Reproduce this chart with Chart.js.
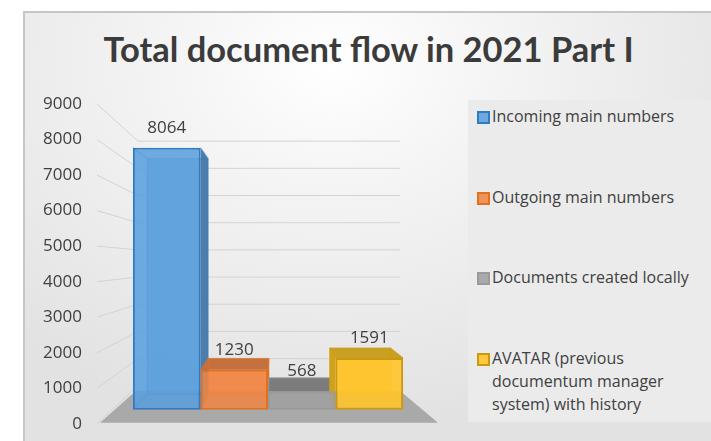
<!DOCTYPE html>
<html>
<head>
<meta charset="utf-8">
<script src="https://cdn.jsdelivr.net/npm/chart.js@4.4.0/dist/chart.umd.min.js"></script>
<style>
  html, body { margin: 0; padding: 0; background: #fff; overflow: hidden; }
  #wrap { position: relative; width: 711px; height: 441px; overflow: hidden; }
  #panel {
    position: absolute; left: 23px; top: 11px; width: 688px; height: 430px;
    box-sizing: border-box; border-top: 2px solid #c6c6c6; border-left: 2px solid #c6c6c6;
    background: radial-gradient(ellipse 70% 85% at 45% 12%, #ffffff 0%, #f4f4f4 35%, #e2e2e2 100%);
  }
  #title {
    position: absolute; left: 0; top: 29px; width: 737px; text-align: center;
    font: bold 34.5px Lato, "Open Sans", sans-serif; line-height: 40px; color: #3b3b3b;
  }
  #legend { position: absolute; left: 468px; top: 100px; width: 243px; height: 322px; background: #ebebeb; }
  .item { position: absolute; left: 24px; font: 16px "Open Sans", sans-serif; line-height: 23px; color: #404040; white-space: nowrap; }
  .sw { position: absolute; left: -15px; top: 6px; width: 9px; height: 9px; border: 2px solid; }
  canvas { position: absolute; left: 0; top: 0; }
</style>
</head>
<body>
<div id="wrap">
  <div id="panel"></div>
  <div id="title">Total document flow in 2021 Part I</div>
  <div id="legend"></div>
  <canvas id="canvas" width="711" height="449"></canvas>
</div>
<script>
// data
const categories = ['2021'];
const seriesNames = [
  'Incoming main numbers',
  'Outgoing main numbers',
  'Documents created locally',
  'AVATAR (previous documentum manager system) with history'
];
const seriesValues = [8064, 1230, 568, 1591];
const legendLines = [
  ['Incoming main numbers'],
  ['Outgoing main numbers'],
  ['Documents created locally'],
  ['AVATAR (previous', 'documentum manager', 'system) with history']
];
const yMin = 0, yMax = 9000, yStep = 1000;

// styles
const frontFill = ['rgba(88,157,220,0.86)', 'rgba(241,133,66,0.86)', 'rgba(160,160,160,0.86)', 'rgba(255,196,40,0.9)'];
const backFill = ['rgba(88,157,220,0.5)', 'rgba(241,133,66,0.5)', 'rgba(150,150,150,0.5)', 'rgba(255,196,40,0.5)'];
const topFill = ['#5f93c4', '#c5703f', '#7c7c7c', '#c9a024'];
const sideFill = ['#4d7eab', '#c46a33', '#8a8a8a', '#d0a21c'];
const edgeColor = ['#2f7bc4', '#e2711f', '#9a9a9a', '#c99a10'];
const legendTops = [5, 86, 166, 247];

// legend (html)
const legendEl = document.getElementById('legend');
legendLines.forEach(function(lines, i) {
  const d = document.createElement('div');
  d.className = 'item';
  d.style.top = legendTops[i] + 'px';
  d.innerHTML = '<span class="sw" style="background:' + frontFill[i] + ';border-color:' + edgeColor[i] + '"></span>' + lines.join('<br>');
  legendEl.appendChild(d);
});

const box3d = {
  id: 'box3d',
  beforeDatasetsDraw(chart) {
    const ctx = chart.ctx, a = chart.chartArea, y = chart.scales.y;
    const wallL = a.left + 41, wallR = a.right - 39;
    const wallY = function(v) {
      const p = y.getPixelForValue(v);
      return (a.bottom - 38) + (p - a.bottom) * 0.765;
    };
    ctx.save();
    // side + back wall gridlines
    ctx.strokeStyle = '#d3d3d3';
    ctx.lineWidth = 1;
    y.ticks.forEach(function(t) {
      const p = y.getPixelForValue(t.value), w = wallY(t.value);
      ctx.beginPath();
      ctx.moveTo(a.left, p);
      ctx.lineTo(wallL, w);
      ctx.lineTo(wallR, w);
      ctx.stroke();
    });
    // floor
    ctx.fillStyle = '#a9a9a9';
    ctx.beginPath();
    ctx.moveTo(a.left + 3, a.bottom - 1);
    ctx.lineTo(a.right - 1, a.bottom - 1);
    ctx.lineTo(wallR, a.bottom - 33);
    ctx.lineTo(wallL - 2, a.bottom - 33);
    ctx.closePath();
    ctx.fill();

    // back parts of the boxes
    const vx = (a.left + a.right) / 2 + 9;
    const vy = a.top + (a.bottom - a.top) * 0.48;
    const k = 0.1;
    chart.data.datasets.forEach(function(ds, i) {
      chart.getDatasetMeta(i).data.forEach(function(el) {
        const p = el.getProps(['x', 'y', 'base', 'width'], true);
        const l = p.x - p.width / 2, r = p.x + p.width / 2, t = p.y, b = p.base;
        const bl = l + (vx - l) * k, br = r + (vx - r) * k;
        const bt = t + (vy - t) * k, bb = b + (vy - b) * k;
        ctx.fillStyle = backFill[i];
        ctx.fillRect(bl, bt, br - bl, bb - bt);
        if (vy < t) {
          ctx.fillStyle = topFill[i];
          ctx.beginPath();
          ctx.moveTo(l, t); ctx.lineTo(r, t); ctx.lineTo(br, bt); ctx.lineTo(bl, bt);
          ctx.closePath(); ctx.fill();
        }
        if (vx > r) {
          ctx.fillStyle = sideFill[i];
          ctx.beginPath();
          ctx.moveTo(r, t); ctx.lineTo(br, bt); ctx.lineTo(br, bb); ctx.lineTo(r, b);
          ctx.closePath(); ctx.fill();
        }
        if (vx < l) {
          ctx.fillStyle = sideFill[i];
          ctx.beginPath();
          ctx.moveTo(l, t); ctx.lineTo(bl, bt); ctx.lineTo(bl, bb); ctx.lineTo(l, b);
          ctx.closePath(); ctx.fill();
        }
        ctx.strokeStyle = edgeColor[i];
        ctx.globalAlpha = 0.55;
        ctx.lineWidth = 1.2;
        ctx.strokeRect(bl, bt, br - bl, bb - bt);
        ctx.beginPath();
        ctx.moveTo(l, t); ctx.lineTo(bl, bt);
        ctx.moveTo(r, t); ctx.lineTo(br, bt);
        ctx.moveTo(l, b); ctx.lineTo(bl, bb);
        ctx.moveTo(r, b); ctx.lineTo(br, bb);
        ctx.stroke();
        ctx.globalAlpha = 1;
      });
    });
    ctx.restore();
  },
  afterDatasetsDraw(chart) {
    const ctx = chart.ctx;
    ctx.save();
    ctx.font = '17px "Open Sans", sans-serif';
    ctx.fillStyle = '#404040';
    ctx.textAlign = 'center';
    ctx.textBaseline = 'alphabetic';
    chart.data.datasets.forEach(function(ds, i) {
      chart.getDatasetMeta(i).data.forEach(function(el, j) {
        ctx.fillText(String(ds.data[j]), el.x, el.y - 15);
      });
    });
    ctx.restore();
  }
};

const ctx = document.getElementById('canvas').getContext('2d');
new Chart(ctx, {
  type: 'bar',
  data: {
    labels: categories,
    datasets: seriesNames.map(function(name, i) {
      return {
        label: name,
        data: [seriesValues[i]],
        yAxisID: 'yb',
        backgroundColor: frontFill[i],
        borderColor: edgeColor[i],
        borderWidth: 2,
        borderSkipped: false,
        barPercentage: 1,
        categoryPercentage: 0.79
      };
    })
  },
  options: {
    responsive: false,
    animation: false,
    layout: { padding: { left: 40, right: 272, top: 104, bottom: 12 } },
    plugins: { legend: { display: false }, tooltip: { enabled: false } },
    scales: {
      x: { display: false },
      y: {
        position: 'left', min: yMin, max: yMax,
        ticks: {
          stepSize: yStep, padding: 15, color: '#404040',
          font: { family: 'Open Sans', size: 17 },
          callback: function(v) { return String(v); }
        },
        grid: { display: false, drawTicks: false },
        border: { display: false },
        afterFit: function(s) { s.width = 57; }
      },
      yb: { display: false, min: -435, max: 9410 }
    }
  },
  plugins: [box3d]
});
</script>
</body>
</html>
